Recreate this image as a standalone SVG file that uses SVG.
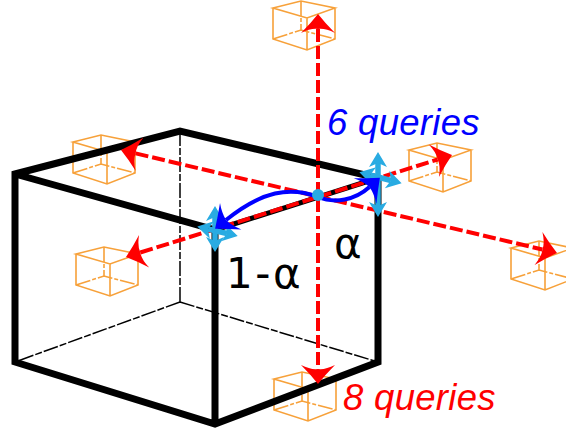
<svg xmlns="http://www.w3.org/2000/svg" width="566" height="431" viewBox="0 0 566 431">
<style>
.c{fill:none;stroke:#f7a13a;stroke-width:1.6}
.h{stroke-dasharray:15 2 4 2}
.b{fill:none;stroke:#000;stroke-width:7;stroke-linejoin:miter;stroke-miterlimit:8}
.t{fill:none;stroke:#000;stroke-width:1.5;stroke-dasharray:15 2 7 2}
.r{fill:none;stroke:#f00;stroke-width:4;stroke-dasharray:13 4}
.u{fill:none;stroke:#00f;stroke-width:4}
.x{fill:none;stroke:#29abe2;stroke-width:5.500}
.q{font-family:"Liberation Sans",Arial,sans-serif;font-size:36.500px;font-style:italic;letter-spacing:.3px}
.a{font-family:"DejaVu Sans",sans-serif;font-size:42px;fill:#000}
</style>
<defs>
<marker id="rh" markerUnits="userSpaceOnUse" markerWidth="40" markerHeight="40" refX="20" refY="20" orient="auto-start-reverse" overflow="visible"><path d="M35 20Q26 13 16 3Q21 13 20 20Q21 27 16 37Q26 27 35 20Z" fill="#f00"/></marker>
<marker id="bh" markerUnits="userSpaceOnUse" markerWidth="40" markerHeight="40" refX="20" refY="20" orient="auto" overflow="visible"><path d="M34 20Q24 12 14 3Q19 12 20 20Q19 28 14 37Q24 28 34 20Z" fill="#00f"/></marker>
<marker id="xh" markerUnits="userSpaceOnUse" markerWidth="24" markerHeight="24" refX="10" refY="12" orient="auto-start-reverse" overflow="visible"><path d="M21 12L6 3L10 12L6 21Z" fill="#29abe2"/></marker>
<g id="cube"><path class="c" d="M0 0L28-7L62 0L34 10ZM0 0V31L34 42L62 31V0M34 10V42"/><path class="c h" d="M28-7V22M0 31L28 22L62 31"/></g>
</defs>
<g id="cube-top"><use href="#cube" x="273" y="8"/></g>
<g id="cube-bottom"><use href="#cube" x="274" y="379"/></g>
<g id="cube-back"><use href="#cube" x="73" y="142"/></g>
<g id="cube-left"><use href="#cube" x="76" y="254"/></g>
<g id="cube-right"><use href="#cube" x="409" y="150"/></g>
<g id="cube-far"><use href="#cube" x="511" y="248"/></g>
<g id="box">
<path class="t" d="M180 131V302M180 302L15 362M180 302L378 362"/>
<path class="b" d="M15 174L180 131L378 178V362L215 424L15 362ZM15 174L215 230V424"/>
<path class="b" style="stroke-width:5" d="M215 230L378 178"/>
</g>
<g id="connectors">
<path class="r" marker-start="url(#rh)" marker-end="url(#rh)" d="M318 29V369"/>
<path class="r" marker-start="url(#rh)" marker-end="url(#rh)" d="M135.600 153.400L542.400 249.500"/>
<path class="r" marker-start="url(#rh)" marker-end="url(#rh)" d="M140.300 252.500L437.700 159.500"/>
</g>
<g id="handle-right"><path class="x" marker-start="url(#xh)" marker-end="url(#xh)" d="M378 163V206"/><path class="x" marker-start="url(#xh)" marker-end="url(#xh)" d="M370 175L391 180.500"/></g>
<g id="handle-left"><path class="x" marker-start="url(#xh)" marker-end="url(#xh)" d="M215 217V241"/><path class="x" marker-start="url(#xh)" marker-end="url(#xh)" d="M208 229L227 233.500"/></g>
<g id="blue-arrows">
<path class="u" marker-end="url(#bh)" d="M318 197C290 186 262 191 226 220"/>
<path class="u" marker-end="url(#bh)" d="M318 197C335 204 355 200 369.500 187"/>
</g>
<g id="center"><circle cx="318" cy="195" r="6" fill="#29abe2"/></g>
<g id="labels">
<text class="q" x="327" y="135" fill="#00f">6 queries</text>
<text class="q" x="343" y="410" fill="#f00">8 queries</text>
<text class="a" x="226" y="288" style="letter-spacing:2.500px">1-α</text>
<text class="a" x="334" y="258">α</text>
</g>
</svg>
